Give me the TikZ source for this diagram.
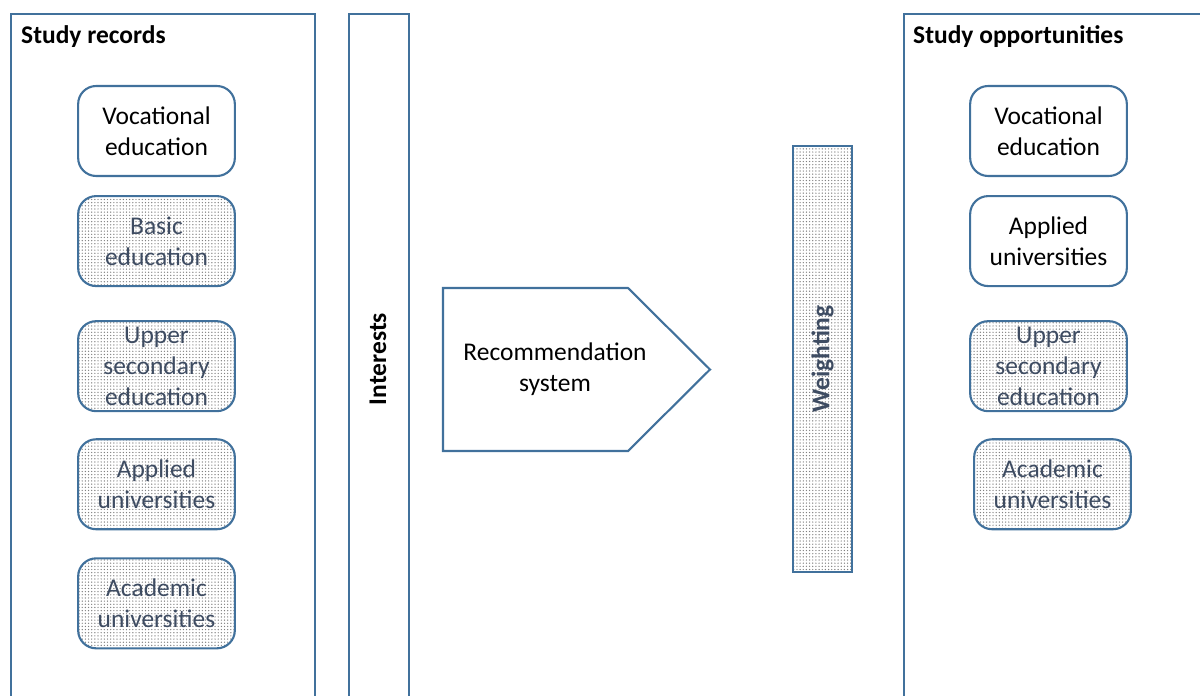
\documentclass[tikz,border=0pt]{standalone}
\usepackage{fontspec}
\setmainfont{Carlito}
\usetikzlibrary{positioning}
\usetikzlibrary{patterns.meta}
\definecolor{frameblue}{RGB}{65,113,156}
\definecolor{slatetext}{RGB}{62,76,98}
\tikzset{frame/.style={draw=frameblue,line width=1.2pt}}
\tikzset{panel/.style={frame,anchor=north west,inner sep=0pt}}
\tikzset{edu/.style={frame,rounded corners=0.36cm,minimum width=3.1cm,minimum height=1.8cm,text width=2.9cm,align=center,font=\fontsize{14.5}{17.5}\selectfont}}
\tikzset{past/.style={edu,pattern={Dots[distance=1.8pt,radius=0.4pt]},pattern color=gray,text=slatetext}}
\tikzset{heading/.style={anchor=base west,font=\bfseries\fontsize{14.5}{17.5}\selectfont}}

\begin{document}
\begin{tikzpicture}[x=0.02cm,y=-0.02cm]
        \useasboundingbox (0,0) rectangle (1200,696);
        \clip (0,0) rectangle (1200,696);
        % frames
        \node[panel,minimum width=6.08cm,minimum height=14cm] (records) at (10,13) {};
        \node[panel,minimum width=1.2cm,minimum height=14cm] (interests) at (348,13) {};
        \node[panel,minimum width=8cm,minimum height=14cm] (opps) at (903,13) {};
        \node[heading] (rectitle) at (15,44) {Study records};
        \node[heading] (opptitle) at (907,44) {Study opportunities};
        \node[rotate=90,font=\bfseries\fontsize{14.5}{17.5}\selectfont] (intlabel) at (378,359) {Interests};

        % study records
        \node[edu] (recvoc) at (156.5,131) {Vocational\\education};
        \node[past,below=0.36cm of recvoc] (recbasic) {Basic\\education};
        \node[past,below=0.66cm of recbasic] (recupper) {Upper\\secondary\\education};
        \node[past,below=0.52cm of recupper] (recapp) {Applied\\universities};
        \node[past,below=0.54cm of recapp] (recacad) {Academic\\universities};

        % recommendation
        \draw[frame] (443,288) -- (628,288) -- (710,369.5) -- (628,451) -- (443,451) -- cycle;
        \node[align=center,font=\fontsize{14.5}{17.5}\selectfont] (recsys) at (555,369) {Recommendation\\system};
        \node[frame,rotate=90,minimum width=8.52cm,minimum height=1.18cm,pattern={Dots[distance=1.8pt,radius=0.4pt]},pattern color=gray,text=slatetext,font=\bfseries\fontsize{14.5}{17.5}\selectfont] (weighting) at (822.5,359) {Weighting};

        % study opportunities
        \node[edu] (oppvoc) at (1048.5,131) {Vocational\\education};
        \node[edu,below=0.36cm of oppvoc] (oppapp) {Applied\\universities};
        \node[past,below=0.66cm of oppapp] (oppupper) {Upper\\secondary\\education};
        \node[past,below=0.52cm of oppupper,xshift=0.08cm] (oppacad) {Academic\\universities};
    \end{tikzpicture}
\end{document}
